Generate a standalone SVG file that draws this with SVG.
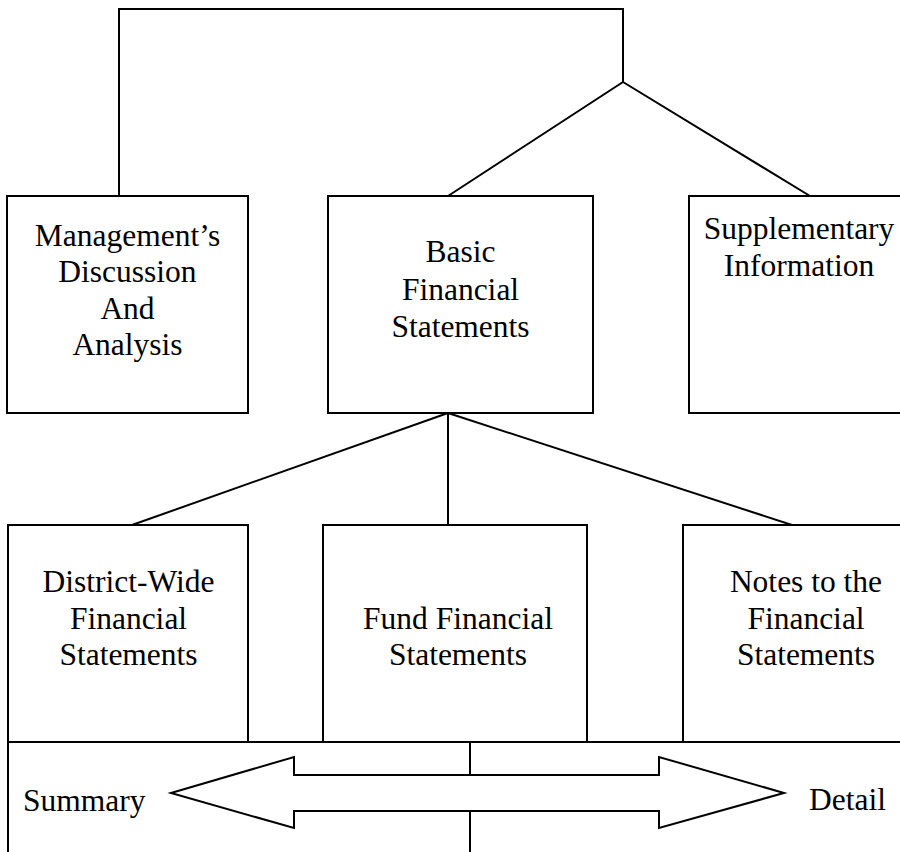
<svg xmlns="http://www.w3.org/2000/svg" width="900" height="852" viewBox="0 0 900 852">
  <style>
    .box { fill: #ffffff; stroke: #000000; stroke-width: 2; }
    .line { fill: none; stroke: #000000; stroke-width: 2; }
    text { font-family: "Liberation Serif", "Times New Roman", serif; font-size: 31.5px; fill: #000000; text-anchor: middle; }
    .left { text-anchor: start; }
  </style>
  <rect width="900" height="852" fill="#ffffff"/>

  <!-- connectors -->
  <g id="connectors">
    <polyline class="line" points="119,196 119,9 623,9 623,82"/>
    <line class="line" x1="623" y1="82" x2="448" y2="196"/>
    <line class="line" x1="623" y1="82" x2="810" y2="196"/>
    <line class="line" x1="448" y1="413" x2="132" y2="525"/>
    <line class="line" x1="448" y1="413" x2="448" y2="525"/>
    <line class="line" x1="448" y1="413" x2="792" y2="525"/>
  </g>

  <!-- top row -->
  <g id="mdna">
    <rect class="box" x="7" y="196" width="241" height="217"/>
    <text x="127.5" y="246">Management’s</text>
    <text x="127.5" y="282">Discussion</text>
    <text x="127.5" y="318.5">And</text>
    <text x="127.5" y="355">Analysis</text>
  </g>
  <g id="basic">
    <rect class="box" x="328" y="196" width="265" height="217"/>
    <text x="460.5" y="262">Basic</text>
    <text x="460.5" y="299.5">Financial</text>
    <text x="460.5" y="337">Statements</text>
  </g>
  <g id="supplementary">
    <rect class="box" x="689" y="196" width="230" height="217"/>
    <text x="799" y="238.5">Supplementary</text>
    <text x="799" y="276">Information</text>
  </g>

  <!-- lower row -->
  <g id="district-wide">
    <rect class="box" x="8" y="525" width="240" height="217"/>
    <text x="128.5" y="592">District-Wide</text>
    <text x="128.5" y="628.5">Financial</text>
    <text x="128.5" y="665">Statements</text>
  </g>
  <g id="fund">
    <rect class="box" x="323" y="525" width="264" height="217"/>
    <text x="458" y="628.5">Fund Financial</text>
    <text x="458" y="665">Statements</text>
  </g>
  <g id="notes">
    <rect class="box" x="683" y="525" width="236" height="217"/>
    <text x="806" y="592">Notes to the</text>
    <text x="806" y="628.5">Financial</text>
    <text x="806" y="665">Statements</text>
  </g>

  <!-- summary / detail scale -->
  <g id="scale">
    <polyline class="line" points="8,742 8,852"/>
    <line class="line" x1="8" y1="742" x2="900" y2="742"/>
    <line class="line" x1="470" y1="742" x2="470" y2="775"/>
    <line class="line" x1="470" y1="811" x2="470" y2="852"/>
    <polygon class="line" points="171,793 294,757 294,775 659,775 659,757 784,793 659,828 659,811 294,811 294,828"/>
    <text class="left" x="23" y="811">Summary</text>
    <text class="left" x="809" y="810">Detail</text>
  </g>
</svg>
